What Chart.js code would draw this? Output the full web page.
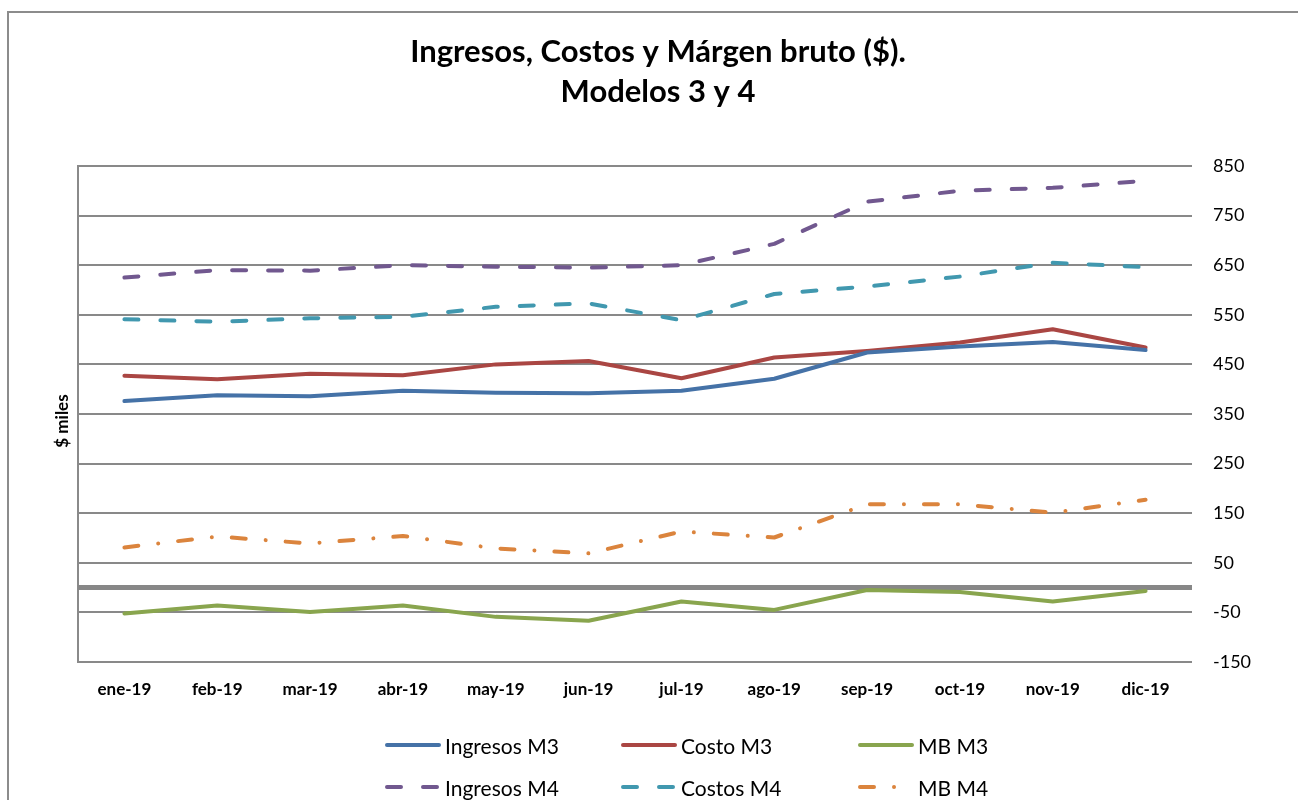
<!DOCTYPE html>
<html><head><meta charset="utf-8">
<script src="https://cdn.jsdelivr.net/npm/chart.js@4.4.0/dist/chart.umd.min.js"></script>
<style>
html,body{margin:0;padding:0;background:#fff;overflow:hidden;}
#wrap{position:relative;width:1298px;height:800px;}
#frame{position:absolute;left:7px;top:11px;width:1400px;height:900px;border:2px solid #8c8c8c;box-sizing:border-box;}
#c{position:absolute;left:0;top:0;}
#legend{position:absolute;left:0;top:0;width:1298px;height:800px;pointer-events:none;font-family:Lato,sans-serif;}
.item{position:absolute;height:24px;display:flex;align-items:center;font-size:21px;color:#000;white-space:nowrap;}
.item svg{margin-right:3px;}
</style></head>
<body>
<div id="wrap">
<div id="frame"></div>
<canvas id="c" width="1298" height="800"></canvas>
<div id="legend"></div>
</div>
<script>
const categories = ['ene-19','feb-19','mar-19','abr-19','may-19','jun-19','jul-19','ago-19','sep-19','oct-19','nov-19','dic-19'];
const ingresosM3 = [376,388,386,397,393,392,397,421,474,486,495,479];
const costoM3    = [427,420,431,428,450,457,422,464,477,494,521,484];
const mbM3       = [-52,-36,-49,-36,-59,-67,-28,-45,-5,-9,-28,-7];
const ingresosM4 = [625,640,639,650,647,645,650,693,778,800,806,820];
const costosM4   = [541,536,543,546,566,573,539,592,607,627,655,646];
const mbM4       = [81,103,89,104,79,69,113,101,168,168,151,177];
const yTicksMin = -150, yTicksMax = 850, yStep = 100;
const titleLines = ['Ingresos, Costos y Márgen bruto ($).','Modelos 3 y 4'];
const yAxisTitle = '$ miles';

const FONT = 'Lato, sans-serif';

function ds(label, data, color, dash){
  return {label, data, borderColor: color, backgroundColor: color, borderWidth: 4,
    borderDash: dash || [], borderCapStyle: 'round', borderJoinStyle: 'round',
    pointRadius: 0, pointHoverRadius: 0, tension: 0, fill: false, yAxisID: 'y'};
}
const datasets = [
  ds('Ingresos M3', ingresosM3, '#4572A7'),
  ds('Costo M3', costoM3, '#AA4643'),
  ds('MB M3', mbM3, '#89A54E'),
  ds('Ingresos M4', ingresosM4, '#71588F', [14,22]),
  ds('Costos M4', costosM4, '#4198AF', [14,22]),
  ds('MB M4', mbM4, '#DB843D', [14,20,0.01,20])
];

const framePlugin = {
  id: 'frameLines',
  beforeDatasetsDraw(chart){
    const {ctx, chartArea: a, scales: {y}} = chart;
    ctx.save();
    ctx.strokeStyle = '#8a8a8a';
    ctx.lineWidth = 2;
    ctx.beginPath(); ctx.moveTo(a.left, a.top - 1); ctx.lineTo(a.left, a.bottom + 1); ctx.stroke();
    const y0 = y.getPixelForValue(0);
    ctx.lineWidth = 5; ctx.strokeStyle = '#878787';
    ctx.beginPath(); ctx.moveTo(a.left, y0); ctx.lineTo(a.right, y0); ctx.stroke();
    ctx.translate(63, (a.top + a.bottom) / 2 + 7);
    ctx.rotate(-Math.PI / 2);
    ctx.font = 'bold 17px ' + FONT;
    ctx.textAlign = 'center'; ctx.textBaseline = 'middle'; ctx.fillStyle = '#000';
    ctx.fillText(yAxisTitle, 0, 0);
    ctx.restore();
  }
};

const chart = new Chart(document.getElementById('c'), {
  type: 'line',
  data: { labels: categories, datasets },
  plugins: [framePlugin],
  options: {
    responsive: false, animation: false,
    layout: { padding: { left: 18, right: 0, top: 0, bottom: 0 } },
    plugins: {
      legend: { display: false },
      tooltip: { enabled: false },
      title: { display: true, text: titleLines, color: '#000',
        font: { family: FONT, size: 31, weight: 'bold', lineHeight: 1.29 },
        padding: { top: 32, bottom: 54 } }
    },
    scales: {
      x: { type: 'category', offset: true, grid: { display: false }, border: { display: false },
        ticks: { color: '#000', font: { family: FONT, size: 17, weight: 'bold' }, padding: 9, maxRotation: 0, autoSkip: false },
        afterFit(s){ s.height = 138; } },
      y: { position: 'right', min: yTicksMin, max: yTicksMax,
        grid: { color: '#898989', lineWidth: 2, drawTicks: false }, border: { display: false },
        ticks: { stepSize: yStep, color: '#000', font: { family: FONT, size: 18 }, padding: 21 },
        afterFit(s){ s.width = 106; } },
      yl: { position: 'left', min: yTicksMin, max: yTicksMax, display: true,
        grid: { display: false }, border: { display: false }, ticks: { display: false },
        afterFit(s){ s.width = 60; } }
    }
  }
});

// HTML legend built from datasets
const legendCols = [384, 620, 857];
const legendRows = [745, 787];
const leg = document.getElementById('legend');
datasets.forEach((d, i) => {
  const el = document.createElement('div');
  el.className = 'item';
  el.style.left = legendCols[i % 3] + 'px';
  el.style.top = (legendRows[Math.floor(i / 3)] - 12) + 'px';
  const dash = d.borderDash.length ? ` stroke-dasharray="${d.borderDash.join(',')}"` : '';
  el.innerHTML = `<svg width="58" height="10"><line x1="3" y1="5" x2="55" y2="5" stroke="${d.borderColor}" stroke-width="4" stroke-linecap="round"${dash}/></svg><span>${d.label}</span>`;
  leg.appendChild(el);
});
</script>
</body></html>
